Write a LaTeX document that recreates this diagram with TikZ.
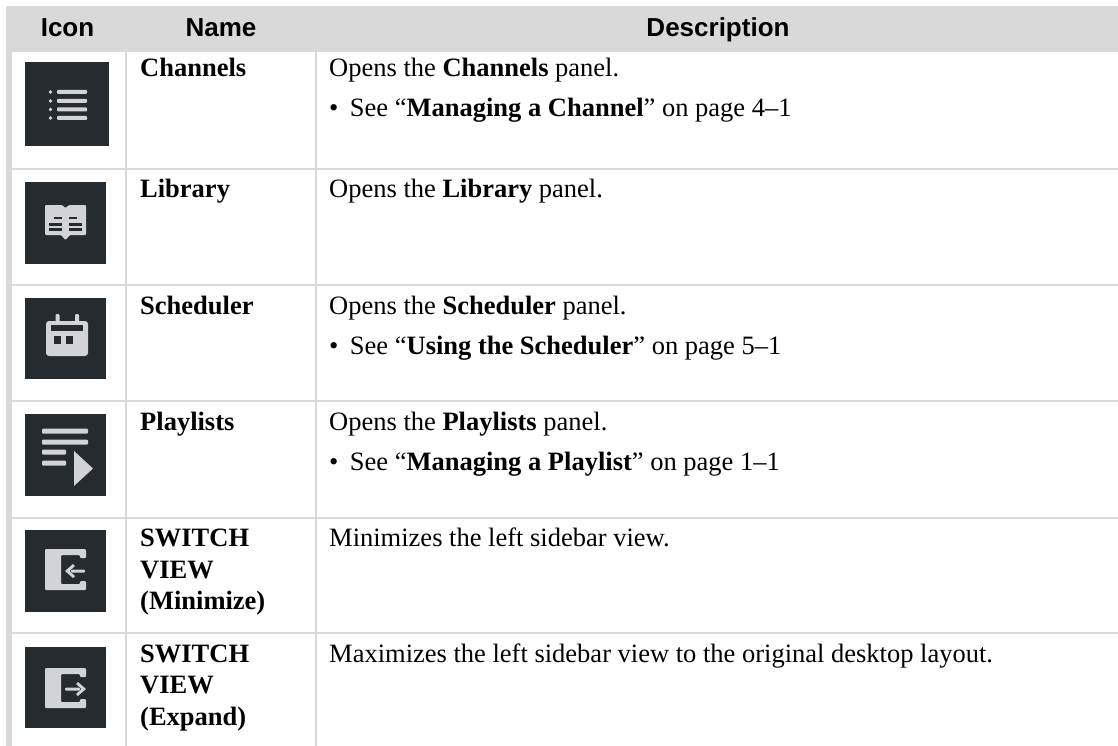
\documentclass[tikz,border=0pt]{standalone}
\usepackage{fontspec}
\setmainfont{Liberation Serif}
\newfontfamily\hdfont{Liberation Sans}
\definecolor{rulec}{HTML}{D9D9D9}
\definecolor{dark}{HTML}{262B30}
\definecolor{glyph}{HTML}{D2D3D6}
\tikzset{x=1pt,y=-1pt,
  hd/.style={font=\hdfont\bfseries\fontsize{26}{28}\selectfont,text=black,inner sep=0,anchor=base},
  nm/.style={font=\bfseries\fontsize{26.5}{28}\selectfont,text=black,inner sep=0,anchor=base west},
  ds/.style={font=\fontsize{26.5}{28}\selectfont,text=black,inner sep=0,anchor=base west},
  ic/.style={fill=dark,draw=none},
  gl/.style={fill=glyph,draw=none,rounded corners=1pt},
  dk/.style={fill=dark,draw=none},
  ru/.style={fill=rulec,draw=none}}
\begin{document}
\begin{tikzpicture}
\useasboundingbox (0,0) rectangle (1118,746);
\fill[white] (0,0) rectangle (1118,746);
% table rules
\fill[ru] (6,6) rectangle (1118,52);
\fill[ru] (6,52) rectangle (12,746);
\fill[ru] (125,52) rectangle (127,746);
\fill[ru] (315,52) rectangle (317,746);
\foreach \y in {168,284,400,517,632} \fill[ru] (12,\y) rectangle (1118,\y+2);
% header
\node[hd] (hicon) at (67.5,36.5) {Icon};
\node[hd] (hname) at (221,36.5) {Name};
\node[hd] (hdesc) at (718,36.5) {Description};
% icon backgrounds
\fill[ic] (25,62) rectangle (109,146);
\fill[ic] (25,182) rectangle (106,264);
\fill[ic] (25,298) rectangle (106,379);
\fill[ic] (25,414) rectangle (106,496);
\fill[ic] (25,530) rectangle (106,612);
\fill[ic] (25,647) rectangle (106,728);
% channels glyph
\foreach \y in {92,101,109.5,118} {
  \fill[glyph] (50.5,\y) circle (1.9);
  \fill[gl] (57,\y-2) rectangle (87,\y+2);
}
% library glyph
\fill[gl] (45,205) -- (62,205) -- (65.5,208) -- (69,205) -- (86,205) -- (86,235) -- (70,235) -- (65.5,240) -- (61,235) -- (45,235) -- cycle;
\foreach \xa/\xb in {49/62,69/82} {
  \fill[dk] (\xa,223) rectangle (\xb,225.5);
  \fill[dk] (\xa,228) rectangle (\xb,230.5);
}
\fill[dk] (54,216.5) rectangle (62,219);
\fill[dk] (69,216.5) rectangle (77,219);
% scheduler glyph
\fill[gl] (55.5,314) rectangle (59.5,323);
\fill[gl] (75,314) rectangle (79,323);
\fill[glyph,rounded corners=3pt] (46,321) rectangle (88,356);
\fill[dk] (51,325) rectangle (83,331);
\fill[dk] (54,336) rectangle (61,344);
\fill[dk] (66,336) rectangle (73,344);
% playlists glyph
\fill[gl] (42,428.5) rectangle (88,433.5);
\fill[gl] (42,439.5) rectangle (88,444.5);
\fill[gl] (42,449.5) rectangle (66,454.5);
\fill[gl] (42,460.5) rectangle (66,465.5);
\fill[glyph] (74,451) -- (93,468.5) -- (74,486) -- cycle;
% minimize glyph
\fill[gl] (45,549) -- (86,549) -- (86,558) -- (80,558) -- (80,555) -- (61,555) -- (61,584) -- (80,584) -- (80,581) -- (86,581) -- (86,590) -- (45,590) -- cycle;
\fill[gl] (71,569.5) rectangle (85,572.5);
\fill[glyph] (65,571) -- (73,564) -- (75,566) -- (69.5,571) -- (75,576) -- (73,578) -- cycle;
% expand glyph
\fill[gl] (45,668) -- (86,668) -- (86,677) -- (80,677) -- (80,674) -- (61,674) -- (61,702) -- (80,702) -- (80,699) -- (86,699) -- (86,708) -- (45,708) -- cycle;
\fill[gl] (65,687.5) rectangle (80,690.5);
\fill[glyph] (86,689) -- (78,682) -- (76,684) -- (81.5,689) -- (76,694) -- (78,696) -- cycle;
% names
\node[nm] (n1) at (140,77) {Channels};
\node[nm] (n2) at (140,197) {Library};
\node[nm] (n3) at (140,314) {Scheduler};
\node[nm] (n4) at (140,430) {Playlists};
\node[nm] (n5a) at (140,546) {SWITCH};
\node[nm] (n5b) at (140,578) {VIEW};
\node[nm] (n5c) at (140,609) {(Minimize)};
\node[nm] (n6a) at (140,662) {SWITCH};
\node[nm] (n6b) at (140,693) {VIEW};
\node[nm] (n6c) at (140,725) {(Expand)};
% descriptions
\node[ds] (d1) at (329,76.5) {Opens the \textbf{Channels} panel.};
\node[ds] (d1b) at (329,116.5) {•\hspace{11.5pt}See “\textbf{Managing a Channel}” on page 4–1};
\node[ds] (d2) at (329,197) {Opens the \textbf{Library} panel.};
\node[ds] (d3) at (329,314) {Opens the \textbf{Scheduler} panel.};
\node[ds] (d3b) at (329,354) {•\hspace{11.5pt}See “\textbf{Using the Scheduler}” on page 5–1};
\node[ds] (d4) at (329,430) {Opens the \textbf{Playlists} panel.};
\node[ds] (d4b) at (329,470) {•\hspace{11.5pt}See “\textbf{Managing a Playlist}” on page 1–1};
\node[ds] (d5) at (329,546) {Minimizes the left sidebar view.};
\node[ds] (d6) at (329,662) {Maximizes the left sidebar view to the original desktop layout.};
\end{tikzpicture}
\end{document}
